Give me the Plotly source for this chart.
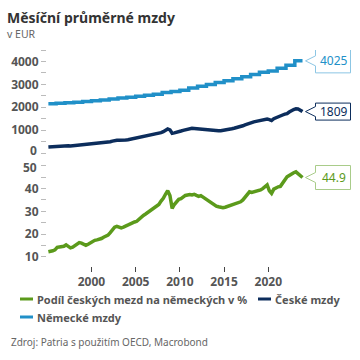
import plotly.graph_objects as go

# ---------------- data ----------------
quarter_years = list(range(1995, 2024))
quarter_months = [2, 5, 8, 11]
dates = [f"{y}-{m:02d}-15" for y in quarter_years for m in quarter_months]

czech_wages = [
    260, 270, 280, 290,
    300, 310, 320, 325,
    330, 320, 310, 320,
    335, 350, 360, 365,
    360, 355, 365, 375,
    390, 400, 410, 420,
    430, 440, 450, 465,
    490, 520, 545, 560,
    555, 550, 555, 565,
    580, 600, 615, 630,
    640, 660, 680, 700,
    720, 745, 770, 790,
    810, 830, 860, 890,
    930, 990, 1050, 1010,
    860, 880, 920, 950,
    960, 990, 1020, 1040,
    1060, 1080, 1070, 1060,
    1050, 1060, 1040, 1030,
    1010, 990, 975, 970,
    965, 970, 975, 985,
    995, 1010, 1030, 1060,
    1080, 1100, 1120, 1150,
    1190, 1230, 1270, 1300,
    1330, 1360, 1380, 1400,
    1410, 1430, 1450, 1480,
    1460, 1420, 1500, 1550,
    1580, 1620, 1660, 1700,
    1720, 1790, 1860, 1900,
    1930, 1920, 1870, 1809,
]

share_pct = [
    12.2, 12.3, 12.6, 13.0,
    14.1, 14.3, 14.5, 14.6,
    15.2, 14.5, 13.9, 14.2,
    14.8, 15.5, 16.2, 16.0,
    15.4, 15.0, 15.5, 16.1,
    16.8, 17.2, 17.4, 17.6,
    18.0, 18.6, 19.0, 19.5,
    20.6, 21.8, 23.0, 23.4,
    23.0, 22.7, 23.0, 23.5,
    24.0, 24.6, 25.0, 25.3,
    25.6, 26.5, 27.5, 28.2,
    28.8, 29.5, 30.2, 30.8,
    31.4, 32.0, 33.0, 34.5,
    35.7, 37.5, 39.1, 37.0,
    31.3, 33.0, 34.5, 35.3,
    35.6, 36.3, 37.0, 37.2,
    37.4, 37.2, 37.5, 37.0,
    36.6, 36.9, 36.2, 35.6,
    35.2, 34.5, 33.5, 32.7,
    32.3, 32.0, 31.8, 31.6,
    31.8, 32.1, 32.4, 32.8,
    33.2, 33.4, 33.6, 34.2,
    35.0, 36.2, 37.5, 38.6,
    38.3, 38.5, 38.8, 39.2,
    39.4, 40.0, 40.6, 41.6,
    39.0, 37.9, 39.8, 40.4,
    40.8, 41.0, 42.5, 43.5,
    45.2, 45.8, 46.5, 47.0,
    47.4, 46.6, 45.5, 44.9,
]

german_years = list(range(1995, 2024))
german_wages = [
    2150, 2170, 2190, 2220, 2250, 2280, 2320, 2360, 2400, 2440,
    2480, 2520, 2570, 2640, 2690, 2740, 2840, 2920, 2990, 3080,
    3160, 3240, 3330, 3430, 3530, 3580, 3700, 3830, 4025,
]

x_tick_years = [2000, 2005, 2010, 2015, 2020]
top_tickvals = [0, 500, 1000, 1500, 2000, 2500, 3000, 3500, 4000, 4500]
bottom_tickvals = [10, 15, 20, 25, 30, 35, 40, 45, 50]

names = ["Podíl českých mezd na německých v %", "České mzdy", "Německé mzdy"]
title = "Měsíční průměrné mzdy"
subtitle = "v EUR"
source = "Zdroj: Patria s použitím OECD, Macrobond"

# ---------------- style ----------------
GREEN = "#5b9a1b"
NAVY = "#0c2d5c"
BLUE = "#2190c8"
GREEN_L = "#a9cc8a"
BLUE_L = "#8cc6e4"
TXT = "#555555"
FONT = "Noto Sans"

ML, MR, MT, MB = 47, 7, 50, 94
PW = 360 - ML - MR
PH = 360 - MT - MB

german_x = [f"{y}-01-01" for y in german_years]
german_x[0] = dates[0]
german_x = german_x + [dates[-1]]
german_y = german_wages + [german_wages[-1]]

fig = go.Figure()
fig.add_trace(go.Scatter(x=german_x, y=german_y, mode="lines", line=dict(color=BLUE, width=3.5, shape="hv"),
                         name=names[2], xaxis="x", yaxis="y", showlegend=False))
fig.add_trace(go.Scatter(x=dates, y=czech_wages, mode="lines", line=dict(color=NAVY, width=3.5),
                         name=names[1], xaxis="x", yaxis="y", showlegend=False))
fig.add_trace(go.Scatter(x=dates, y=share_pct, mode="lines", line=dict(color=GREEN, width=3.5),
                         name=names[0], xaxis="x", yaxis="y2", showlegend=False))

split = (266 - 153) / PH
tickfont = dict(family=FONT, size=12, color=TXT, weight="bold")

# labels at the junction of the two panels are drawn as separate, slightly nudged texts
top_edge_val = top_tickvals[0]
bottom_edge_val = bottom_tickvals[-1]

fig.update_layout(
    width=360, height=360,
    margin=dict(l=ML, r=MR, t=MT, b=MB, autoexpand=False),
    paper_bgcolor="white", plot_bgcolor="white",
    font=dict(family=FONT, color=TXT),
    xaxis=dict(domain=[0, 1], anchor="y2", type="date", automargin=False,
               range=["1994-12-20", "2029-08-01"],
               tickvals=[f"{y}-01-01" for y in x_tick_years],
               ticktext=[str(y) for y in x_tick_years],
               ticks="outside", ticklen=5, tickcolor="#444", tickwidth=1,
               showgrid=False, showline=False, zeroline=False, tickfont=tickfont),
    yaxis=dict(domain=[split, 1], range=[0, 4500], automargin=False,
               tickvals=top_tickvals,
               ticktext=[str(v) if (v % 1000 == 0 and v != top_edge_val) else "" for v in top_tickvals],
               ticks="outside", ticklen=5, tickcolor="#bbbbbb", tickwidth=1,
               showgrid=False, showline=False, zeroline=False, tickfont=tickfont),
    yaxis2=dict(domain=[0, split], range=[5.9, 55.7], automargin=False,
                tickvals=bottom_tickvals,
                ticktext=[str(v) if (v % 10 == 0 and v != bottom_edge_val) else "" for v in bottom_tickvals],
                ticks="outside", ticklen=5, tickcolor="#bbbbbb", tickwidth=1,
                showgrid=False, showline=False, zeroline=False, tickfont=tickfont),
    showlegend=False,
)


def px_x(p):
    return (p - ML) / PW


def px_y(p):
    return (360 - MB - p) / PH


# junction tick labels
fig.add_annotation(text=str(top_edge_val), xref="paper", yref="y", x=px_x(39), y=top_edge_val,
                   yshift=3, xanchor="right", yanchor="middle", showarrow=False, font=tickfont)
fig.add_annotation(text=str(bottom_edge_val), xref="paper", yref="y2", x=px_x(39), y=bottom_edge_val,
                   yshift=-2, xanchor="right", yanchor="middle", showarrow=False, font=tickfont)

# title, subtitle, source
fig.add_annotation(text=f"<b>{title}</b>", xref="paper", yref="paper", x=px_x(5), y=px_y(17),
                   xanchor="left", yanchor="middle", showarrow=False,
                   font=dict(family=FONT, size=14, color="#333333"))
fig.add_annotation(text=subtitle, xref="paper", yref="paper", x=px_x(5), y=px_y(34),
                   xanchor="left", yanchor="middle", showarrow=False,
                   font=dict(family=FONT, size=10.5, color="#666666"))
fig.add_annotation(text=source, xref="paper", yref="paper", x=px_x(9), y=px_y(342),
                   xanchor="left", yanchor="middle", showarrow=False,
                   font=dict(family=FONT, size=10, color="#666666"))

# custom legend
legend_items = [
    (names[0], GREEN, 20, 299),
    (names[1], NAVY, 258, 299),
    (names[2], BLUE, 20, 317),
]
for label, col, lx, ly in legend_items:
    fig.add_shape(type="line", xref="paper", yref="paper", x0=px_x(lx), x1=px_x(lx + 13),
                  y0=px_y(ly), y1=px_y(ly), line=dict(color=col, width=3))
    fig.add_annotation(text=f"<b>{label}</b>", xref="paper", yref="paper", x=px_x(lx + 15), y=px_y(ly),
                       xanchor="left", yanchor="middle", showarrow=False,
                       font=dict(family=FONT, size=11, color=TXT))

# callout boxes for last values
callouts = [
    (german_y[-1], "y", BLUE_L, BLUE, 12, f"{german_wages[-1]}"),
    (czech_wages[-1], "y", NAVY, NAVY, 8.5, f"{czech_wages[-1]}"),
    (share_pct[-1], "y2", GREEN_L, GREEN, 12, f"{share_pct[-1]}"),
]
for val, yr, bcol, tcol, hh, txt in callouts:
    path = (f"M 13,{hh} L 48,{hh} L 48,{-hh} L 13,{-hh} L 13,-5 L 3,0 L 13,5 Z")
    fig.add_shape(type="path", xref="x", yref=yr, xsizemode="pixel", ysizemode="pixel",
                  xanchor=dates[-1], yanchor=val, path=path,
                  fillcolor="white", line=dict(color=bcol, width=1))
    fig.add_annotation(text=txt, xref="x", yref=yr, x=dates[-1], y=val, xshift=31,
                       showarrow=False, xanchor="center", yanchor="middle",
                       font=dict(family=FONT, size=12, color=tcol))

fig.write_html(
    "out.html",
    config={"displayModeBar": False},
    post_script="document.body.style.margin='0';document.documentElement.style.overflow='hidden';",
)
